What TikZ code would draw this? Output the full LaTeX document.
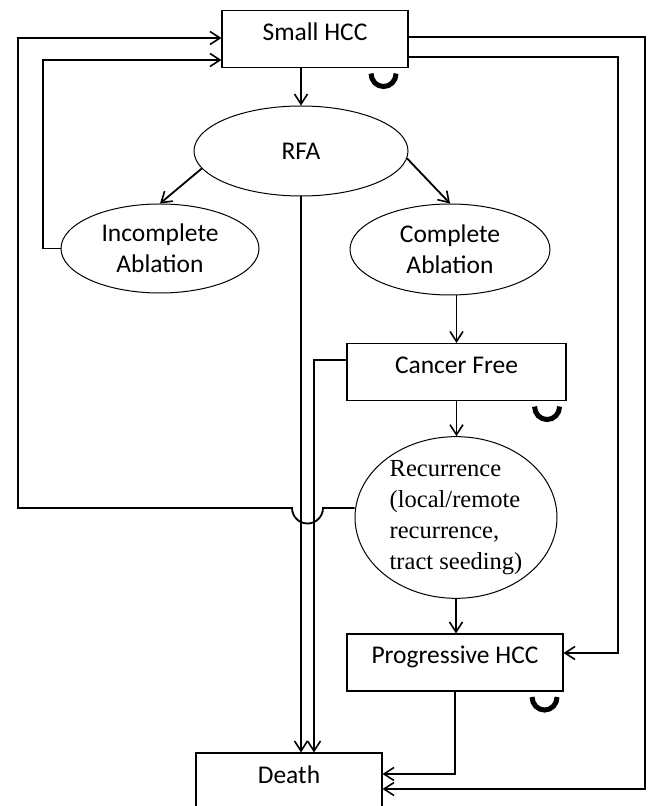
\documentclass[tikz,border=0pt]{standalone}
\usepackage{fontspec}
\setmainfont{Carlito}
\newfontfamily\timesfont{Liberation Serif}
\usetikzlibrary{arrows.meta,shapes.geometric}

\begin{document}
\begin{tikzpicture}[x=1pt,y=1pt,
  box/.style={draw, line width=1.1pt, rectangle, inner sep=0pt, text height=30pt, text depth=27pt, font=\fontsize{25.5}{31}\selectfont},
  oval/.style={draw, line width=1pt, ellipse, inner sep=0pt, align=center, font=\fontsize{25.5}{31}\selectfont},
  link/.style={line width=1.8pt, -{Straight Barb[length=10pt,width=13pt,line width=1.6pt]}},
  stay/.style={line width=5pt}]
\useasboundingbox (0,0) rectangle (650,806);

\node (1) at (315,767) [box, minimum width=186pt] {Small HCC};
\node (2) at (301,655) [oval, minimum width=214pt, minimum height=90pt] {RFA};
\node (3) at (160,557.5) [oval, minimum width=198pt, minimum height=89pt] {Incomplete\\Ablation};
\node (4) at (450,556.5) [oval, minimum width=200pt, minimum height=91pt] {Complete\\Ablation};
\node (5) at (456.5,434) [box, minimum width=219pt] {Cancer Free};
\node (6) at (456,288.5) [oval, minimum width=202pt, minimum height=155pt, align=left, font=\timesfont\fontsize{24.5}{31}\selectfont] {Recurrence\\(local/remote\\recurrence,\\tract seeding)};
\node (7) at (455,143.5) [box, minimum width=216pt] {Progressive HCC};
\node (8) at (289,24.5) [box, minimum width=186pt] {Death};

\draw[link] (1.south -| 2.north) -- (2.north);
\draw[link] (2.-170) -- (3.north);
\draw[link] (2.-4) -- (4.north);
\draw[link] (4.south -| 5.north) -- (5.north);
\draw[link] (5.south) -- (5.south |- 6.north);
\draw[link] (6.south) -- (6.south |- 7.north);
\draw[link] (2.south) -- (2.south |- 8.north);
\draw[link] ([yshift=12pt]5.west) -| ([xshift=25pt]8.north);
\draw[link] (7.south) |- ([yshift=7.5pt]8.east);
\draw[link] (3.west) -| (43,746) -- ([yshift=-21pt]1.west);
\draw[link] ([yshift=9.5pt]6.west) -- (323,298) arc[start angle=0, end angle=-180, radius=15.5] -- (18,298) -- (18,768) -- ([yshift=1pt]1.west);
\draw[link] ([yshift=2pt]1.east) -| (645,17) -- ([yshift=-7.5pt]8.east);
\draw[link] ([yshift=-18pt]1.east) -| (618,153) -- ([yshift=9.5pt]7.east);

\draw[stay] ([xshift=-37.5pt,yshift=-5.5pt]1.south east) arc[start angle=180, end angle=360, x radius=12.5pt, y radius=13pt];
\draw[stay] ([xshift=-32pt,yshift=-5.5pt]5.south east) arc[start angle=180, end angle=360, x radius=12.5pt, y radius=13pt];
\draw[stay] ([xshift=-31.5pt,yshift=-5.5pt]7.south east) arc[start angle=180, end angle=360, x radius=12.5pt, y radius=13pt];
\end{tikzpicture}
\end{document}
